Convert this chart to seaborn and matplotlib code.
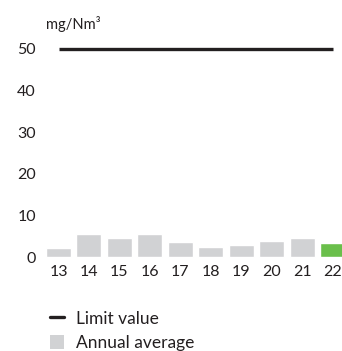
import matplotlib
matplotlib.use("Agg")
import matplotlib.pyplot as plt
from matplotlib.lines import Line2D
from matplotlib.patches import Patch
import pandas as pd
import seaborn as sns

# Annual average emissions (mg/Nm³) by year
years = ["13", "14", "15", "16", "17", "18", "19", "20", "21", "22"]
annual_average = [2.2, 5.5, 4.6, 5.5, 3.6, 2.4, 3.0, 3.8, 4.6, 3.4]
limit_value = 50
y_ticks = [0, 10, 20, 30, 40, 50]
unit_label = "mg/Nm³"
legend_labels = ["Limit value", "Annual average"]

GREY = "#d1d2d4"
GREEN = "#6abf4b"
INK = "#231f20"

sns.set_theme(style="white")
plt.rcParams["font.family"] = ["Lato", "DejaVu Sans"]
plt.rcParams["text.color"] = INK

df = pd.DataFrame({"year": years, "value": annual_average})
palette = {y: (GREEN if i == len(years) - 1 else GREY) for i, y in enumerate(years)}

W, H = 342, 351
fig = plt.figure(figsize=(W / 100, H / 100), dpi=100)
ax = fig.add_axes([40 / W, (H - 262) / H, (W - 40) / W, 222 / H])

sns.barplot(data=df, x="year", y="value", hue="year", palette=palette,
            width=0.82, legend=False, ax=ax, saturation=1)

# Limit value line spanning first to last year
ax.hlines(limit_value, 0, len(years) - 1, color=INK, linewidth=2.4,
          capstyle="butt")

ax.set_xlim(-0.608, 9.312)
ax.set_ylim(-1.2, 52.16)
ax.set_yticks(y_ticks)
ax.set_yticklabels([str(t) for t in y_ticks])
ax.tick_params(axis="both", length=0, labelsize=11.5, colors=INK)
ax.tick_params(axis="y", pad=3)
ax.tick_params(axis="x", pad=2.5)
ax.set_xlabel("")
ax.set_ylabel("")
for s in ax.spines.values():
    s.set_visible(False)
ax.patch.set_alpha(0)

fig.text(46 / W, (H - 29.5) / H, unit_label, fontsize=10.5, color=INK,
         ha="left", va="baseline")

handles = [Line2D([0], [0], color=INK, linewidth=2.4),
           Patch(facecolor=GREY, edgecolor="none")]
fig.legend(handles, legend_labels, loc="upper left",
           bbox_to_anchor=(43 / W, (H - 304) / H), frameon=False,
           fontsize=12.5, handlelength=0.8, handleheight=0.85,
           handletextpad=0.7, labelspacing=0.45, borderaxespad=0,
           labelcolor=INK)

fig.savefig("out.png", dpi=100)
